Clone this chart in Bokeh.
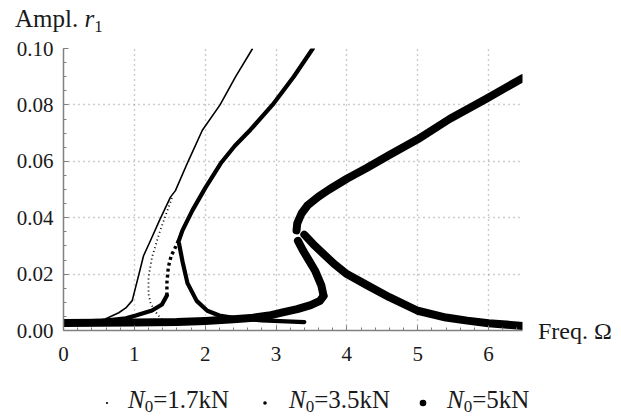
from bokeh.plotting import figure
from bokeh.models import Range1d, FixedTicker, PrintfTickFormatter, Div
from bokeh.layouts import column, row
from bokeh.embed import file_html
from bokeh.resources import INLINE

# ---------------- data ----------------
x_ticks = [0, 1, 2, 3, 4, 5, 6]
y_ticks = [0.0, 0.02, 0.04, 0.06, 0.08, 0.10]

# N0 = 1.7 kN
A_low_x = [0.0, 0.40, 0.59, 0.78, 0.88, 0.97, 1.05, 1.13, 1.23, 1.36, 1.51, 1.58, 1.76, 1.96, 2.21, 2.43, 2.67]
A_low_y = [0.0030, 0.0033, 0.0041, 0.0063, 0.0080, 0.0106, 0.0185, 0.0265, 0.0320, 0.0393, 0.0473, 0.0496, 0.0600, 0.0710, 0.0800, 0.0900, 0.1000]
A_in_x = [1.53, 1.43, 1.35, 1.25, 1.20, 1.20, 1.23, 1.32, 1.42]
A_in_y = [0.0470, 0.0400, 0.0343, 0.0260, 0.0189, 0.0130, 0.0095, 0.0059, 0.0030]

# N0 = 3.5 kN
B_low_x = [0.0, 0.59, 0.88, 1.02, 1.25, 1.39, 1.46]
B_low_y = [0.0030, 0.0035, 0.0043, 0.0053, 0.0071, 0.0092, 0.0124]
B_uns_x = [1.46, 1.46, 1.48, 1.52, 1.58, 1.64]
B_uns_y = [0.0124, 0.0170, 0.0225, 0.0265, 0.0295, 0.0330]
B_up_x = [1.63, 1.68, 1.82, 2.00, 2.22, 2.42, 2.64, 2.95, 3.25, 3.52]
B_up_y = [0.0320, 0.0355, 0.0426, 0.0505, 0.0593, 0.0655, 0.0712, 0.0800, 0.0900, 0.1000]
B_dn_x = [1.63, 1.68, 1.75, 1.88, 2.03, 2.20, 2.40, 2.80, 3.40]
B_dn_y = [0.0310, 0.0245, 0.0168, 0.0105, 0.0070, 0.0053, 0.0045, 0.0036, 0.0030]

# N0 = 5 kN
C_low_x = [0.0, 1.0, 1.6, 2.0, 2.4, 2.64, 2.90, 3.11, 3.30, 3.49, 3.62, 3.67]
C_low_y = [0.0027, 0.0028, 0.0030, 0.0034, 0.0040, 0.0044, 0.0053, 0.0065, 0.0076, 0.0090, 0.0105, 0.0122]
C_mid_x = [3.67, 3.64, 3.55, 3.45, 3.38, 3.31]
C_mid_y = [0.0125, 0.0160, 0.0213, 0.0255, 0.0284, 0.0318]
C_up_x = [3.29, 3.30, 3.36, 3.45, 3.60, 3.75, 4.00, 4.28, 4.60, 5.00, 5.45, 5.97, 6.48]
C_up_y = [0.0355, 0.0380, 0.0415, 0.0445, 0.0475, 0.0500, 0.0538, 0.0576, 0.0622, 0.0678, 0.0750, 0.0822, 0.0895]
C_dn_x = [3.40, 3.55, 3.82, 4.00, 4.29, 4.60, 5.00, 5.40, 5.70, 6.00, 6.40, 6.48]
C_dn_y = [0.0340, 0.0300, 0.0236, 0.0200, 0.0160, 0.0118, 0.0070, 0.0046, 0.0035, 0.0026, 0.0018, 0.0016]

legend_values = ["=1.7kN", "=3.5kN", "=5kN"]
x_title = "Freq. Ω"
y_title = "Ampl."

# ---------------- main figure ----------------
SERIF = "Liberation Serif"
HEAD_H = 36
FIG_W, FIG_H = 530, 330
p = figure(width=FIG_W, height=FIG_H, x_range=Range1d(0, 6.48), y_range=Range1d(0, 0.1),
           output_backend="svg", toolbar_location=None,
           min_border_left=63, min_border_right=8, min_border_top=48 - HEAD_H,
           min_border_bottom=HEAD_H + FIG_H - 330)
p.outline_line_color = None
p.background_fill_color = "white"
p.border_fill_color = "white"

p.xaxis.ticker = FixedTicker(ticks=x_ticks, minor_ticks=[i * 0.2 for i in range(33)])
p.yaxis.ticker = FixedTicker(ticks=y_ticks, minor_ticks=[i * 0.005 for i in range(21)])
p.xaxis.formatter = PrintfTickFormatter(format="%d")
p.yaxis.formatter = PrintfTickFormatter(format="%.2f")
for ax in (p.xaxis, p.yaxis):
    ax.axis_line_color = "#808080"
    ax.axis_line_width = 1.5
    ax.major_tick_line_color = "#808080"
    ax.minor_tick_line_color = "#808080"
    ax.major_tick_in = 5
    ax.major_tick_out = 0
    ax.minor_tick_in = 3
    ax.minor_tick_out = 0
    ax.major_label_text_font = SERIF
    ax.major_label_text_font_size = "21px"
    ax.major_label_text_color = "#1a1a1a"
p.xaxis.major_label_standoff = 16
p.yaxis.major_label_standoff = 10

p.xgrid.ticker = FixedTicker(ticks=x_ticks[1:])
p.ygrid.ticker = FixedTicker(ticks=y_ticks[1:])
p.grid.grid_line_color = "#9a9a9a"
p.grid.grid_line_dash = "1 4"
p.grid.grid_line_width = 1.4

for xs, ys in [(C_low_x, C_low_y), (C_mid_x, C_mid_y), (C_up_x, C_up_y), (C_dn_x, C_dn_y)]:
    p.line(xs, ys, line_color="black", line_width=8, line_cap="round", line_join="round")
for xs, ys in [(B_low_x, B_low_y), (B_up_x, B_up_y), (B_dn_x, B_dn_y)]:
    p.line(xs, ys, line_color="black", line_width=4.2, line_cap="round", line_join="round")
p.line(B_uns_x, B_uns_y, line_color="black", line_width=3.4, line_dash="3 3")
p.line(A_low_x, A_low_y, line_color="black", line_width=1.6)
p.line(A_in_x, A_in_y, line_color="black", line_width=1.8, line_dash="1 3")

# ---------------- texts around the plot (inline SVG text) ----------------
STY = f"font-family:'{SERIF}', serif; fill:#1a1a1a;"

head_svg = (f'<svg width="621" height="{HEAD_H}" style="display:block">'
            f'<text x="15" y="27" style="{STY} font-size:25px;">{y_title} '
            f'<tspan style="font-style:italic;">r</tspan>'
            f'<tspan style="font-size:17px;" dy="5">1</tspan></text></svg>')

freq_svg = (f'<svg width="{621 - FIG_W}" height="{FIG_H}" style="display:block">'
            f'<text x="8" y="{339 - HEAD_H}" style="{STY} font-size:24px;">{x_title}</text></svg>')

leg_top = HEAD_H + FIG_H
LEG_H = 417 - leg_top
dot_cx = [107, 265, 423]
dot_r = [1.1, 1.8, 3.3]
text_x = [128, 289, 447]
parts = [f'<svg width="621" height="{LEG_H}" style="display:block">']
for i, val in enumerate(legend_values):
    parts.append(f'<circle cx="{dot_cx[i]}" cy="{403 - leg_top}" r="{dot_r[i]}" fill="black"/>')
    parts.append(f'<text x="{text_x[i]}" y="{408 - leg_top}" style="{STY} font-size:25px;">'
                 f'<tspan style="font-style:italic;">N</tspan>'
                 f'<tspan style="font-size:17px;" dy="4">0</tspan>'
                 f'<tspan dy="-4">{val}</tspan></text>')
parts.append('</svg>')
leg_svg = "".join(parts)

head = Div(text=head_svg, width=621, height=HEAD_H, margin=0)
freq = Div(text=freq_svg, width=621 - FIG_W, height=FIG_H, margin=0)
leg = Div(text=leg_svg, width=621, height=LEG_H, margin=0)

layout = column(head, row(p, freq, spacing=0), leg, spacing=0)
open("out.html", "w").write(file_html(layout, INLINE))
